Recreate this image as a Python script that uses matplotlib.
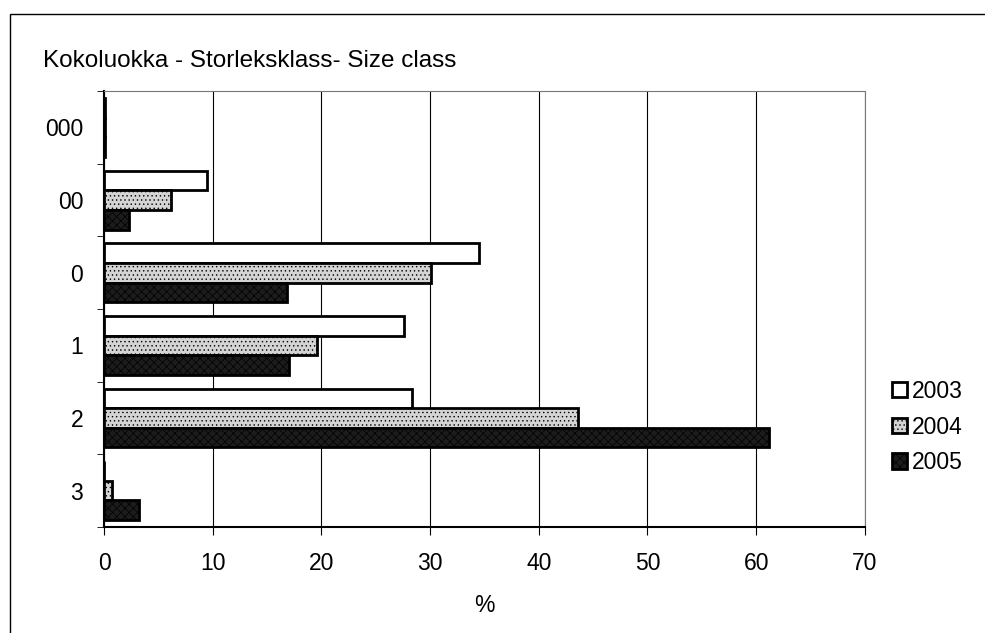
import matplotlib
matplotlib.use('Agg')
import matplotlib.pyplot as plt
import numpy as np
from matplotlib.patches import Rectangle

plt.rcParams['font.family'] = ['Liberation Sans', 'DejaVu Sans']

# size classes, top to bottom
classes = ['000', '00', '0', '1', '2', '3']
v2003 = [0.1, 9.5, 34.5, 27.6, 28.3, 0.0]
v2004 = [0.1, 6.2, 30.1, 19.6, 43.6, 0.7]
v2005 = [0.1, 2.3, 16.8, 17.0, 61.2, 3.2]
years = ['2003', '2004', '2005']

fig = plt.figure(figsize=(9.85, 6.33), dpi=100)
ax = fig.add_axes([0.1056, 0.1675, 0.7724, 0.6885])

# outer frame of the original sheet
fig.patches.append(Rectangle((10/985, -0.1), 1.1, 0.1 + 1 - 14/633, transform=fig.transFigure,
                             fill=False, edgecolor='black', linewidth=1.0))

n = len(classes)
y = np.arange(n)
h = 0.27
styles = [
    dict(facecolor='white', hatch=None),
    dict(facecolor='#d4d4d4', hatch='....'),
    dict(facecolor='#1c1c1c', hatch='xxxx'),
]
plt.rcParams['hatch.color'] = '#7a7a7a'
plt.rcParams['hatch.linewidth'] = 0.5

for i, (vals, st) in enumerate(zip([v2003, v2004, v2005], styles)):
    ax.barh(y + (i - 1) * h, vals, height=h, facecolor=st['facecolor'],
            edgecolor='black', linewidth=2.0, hatch=st['hatch'], label=years[i], zorder=3)

fs = 16.5
ax.set_ylim(n - 0.5, -0.5)
ax.set_xlim(0, 70)
ax.set_xticks(np.arange(0, 71, 10))
ax.set_yticks(y)
ax.set_yticklabels(classes)
ax.set_yticks(np.arange(-0.5, n, 1), minor=True)
ax.tick_params(axis='y', which='major', length=0, pad=15, labelsize=fs)
ax.tick_params(axis='y', which='minor', length=5, direction='out')
ax.tick_params(axis='x', length=6, direction='out', labelsize=fs, pad=12)
ax.grid(axis='x', color='black', linewidth=0.8, zorder=0)
for s in ['top', 'right']:
    ax.spines[s].set_color('#777777')
    ax.spines[s].set_linewidth(0.8)
for s in ['left', 'bottom']:
    ax.spines[s].set_linewidth(1.5)

ax.set_xlabel('%', fontsize=fs, labelpad=14)
fig.text(43/985, 1 - 61/633, 'Kokoluokka - Storleksklass- Size class', fontsize=17.5,
         va='center', ha='left')

ax.legend(loc='center left', bbox_to_anchor=(892/985, 1 - 427/633),
          bbox_transform=fig.transFigure, frameon=False, fontsize=fs,
          borderpad=0, borderaxespad=0,
          handlelength=0.65, handleheight=0.65, handletextpad=0.2, labelspacing=0.55)

fig.savefig('out.png', dpi=100)
